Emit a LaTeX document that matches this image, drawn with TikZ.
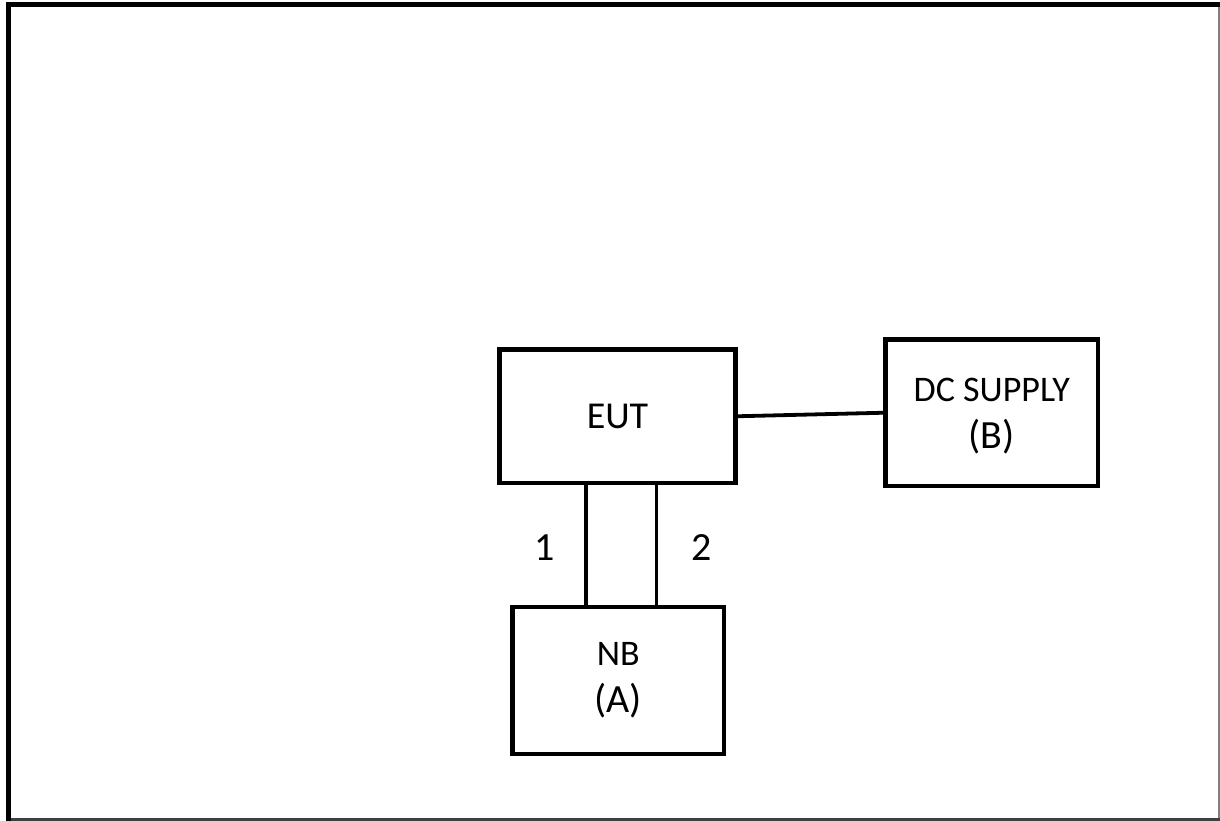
\documentclass[tikz,border=0pt]{standalone}
\usepackage{fontspec}
\setmainfont{Carlito}
\begin{document}
\begin{tikzpicture}[x=1pt,y=-1pt,
  blk/.style={draw=black, line width=4.8pt, fill=white, inner sep=0pt, align=center,
    font=\fontsize{36}{47}\selectfont},
  wire/.style={draw=black, line width=3.8pt},
  lbl/.style={inner sep=0pt, font=\fontsize{40}{48}\selectfont}]
\useasboundingbox (0,0) rectangle (1220,821);
\fill[white] (0,0) rectangle (1220,821);
% outer frame
\draw[line width=2pt, gray] (1219,4) -- (1219,821);
\draw[line width=2.5pt, black!75] (6,819.6) -- (1220,819.6);
\draw[line width=5pt, black] (8.5,821) -- (8.5,4.5) -- (1220,4.5);
% boxes
\node[blk, minimum width=236pt, minimum height=133.5pt, font=\fontsize{38}{47}\selectfont] (eut) at (617.5,416.25) {EUT};
\node[blk, minimum width=212.5pt, minimum height=146.5pt] (dc) at (991.75,412.75) {\rule{0pt}{30pt}DC SUPPLY\\{\fontsize{40}{47}\selectfont (B)}};
\node[blk, minimum width=211.5pt, minimum height=147pt] (nb) at (618.25,680.5) {NB\\{\fontsize{40}{47}\selectfont (A)}};
% connectors
\coordinate (c1) at (586,0);
\coordinate (c2) at (656.5,0);
\draw[wire] (eut.east) -- (dc.west);
\draw[wire] (eut.south -| c1) -- (nb.north -| c1);
\draw[wire] (eut.south -| c2) -- (nb.north -| c2);
\node[lbl] (l1) at (545,548) {1};
\node[lbl] (l2) at (701.5,548) {2};
\end{tikzpicture}
\end{document}
